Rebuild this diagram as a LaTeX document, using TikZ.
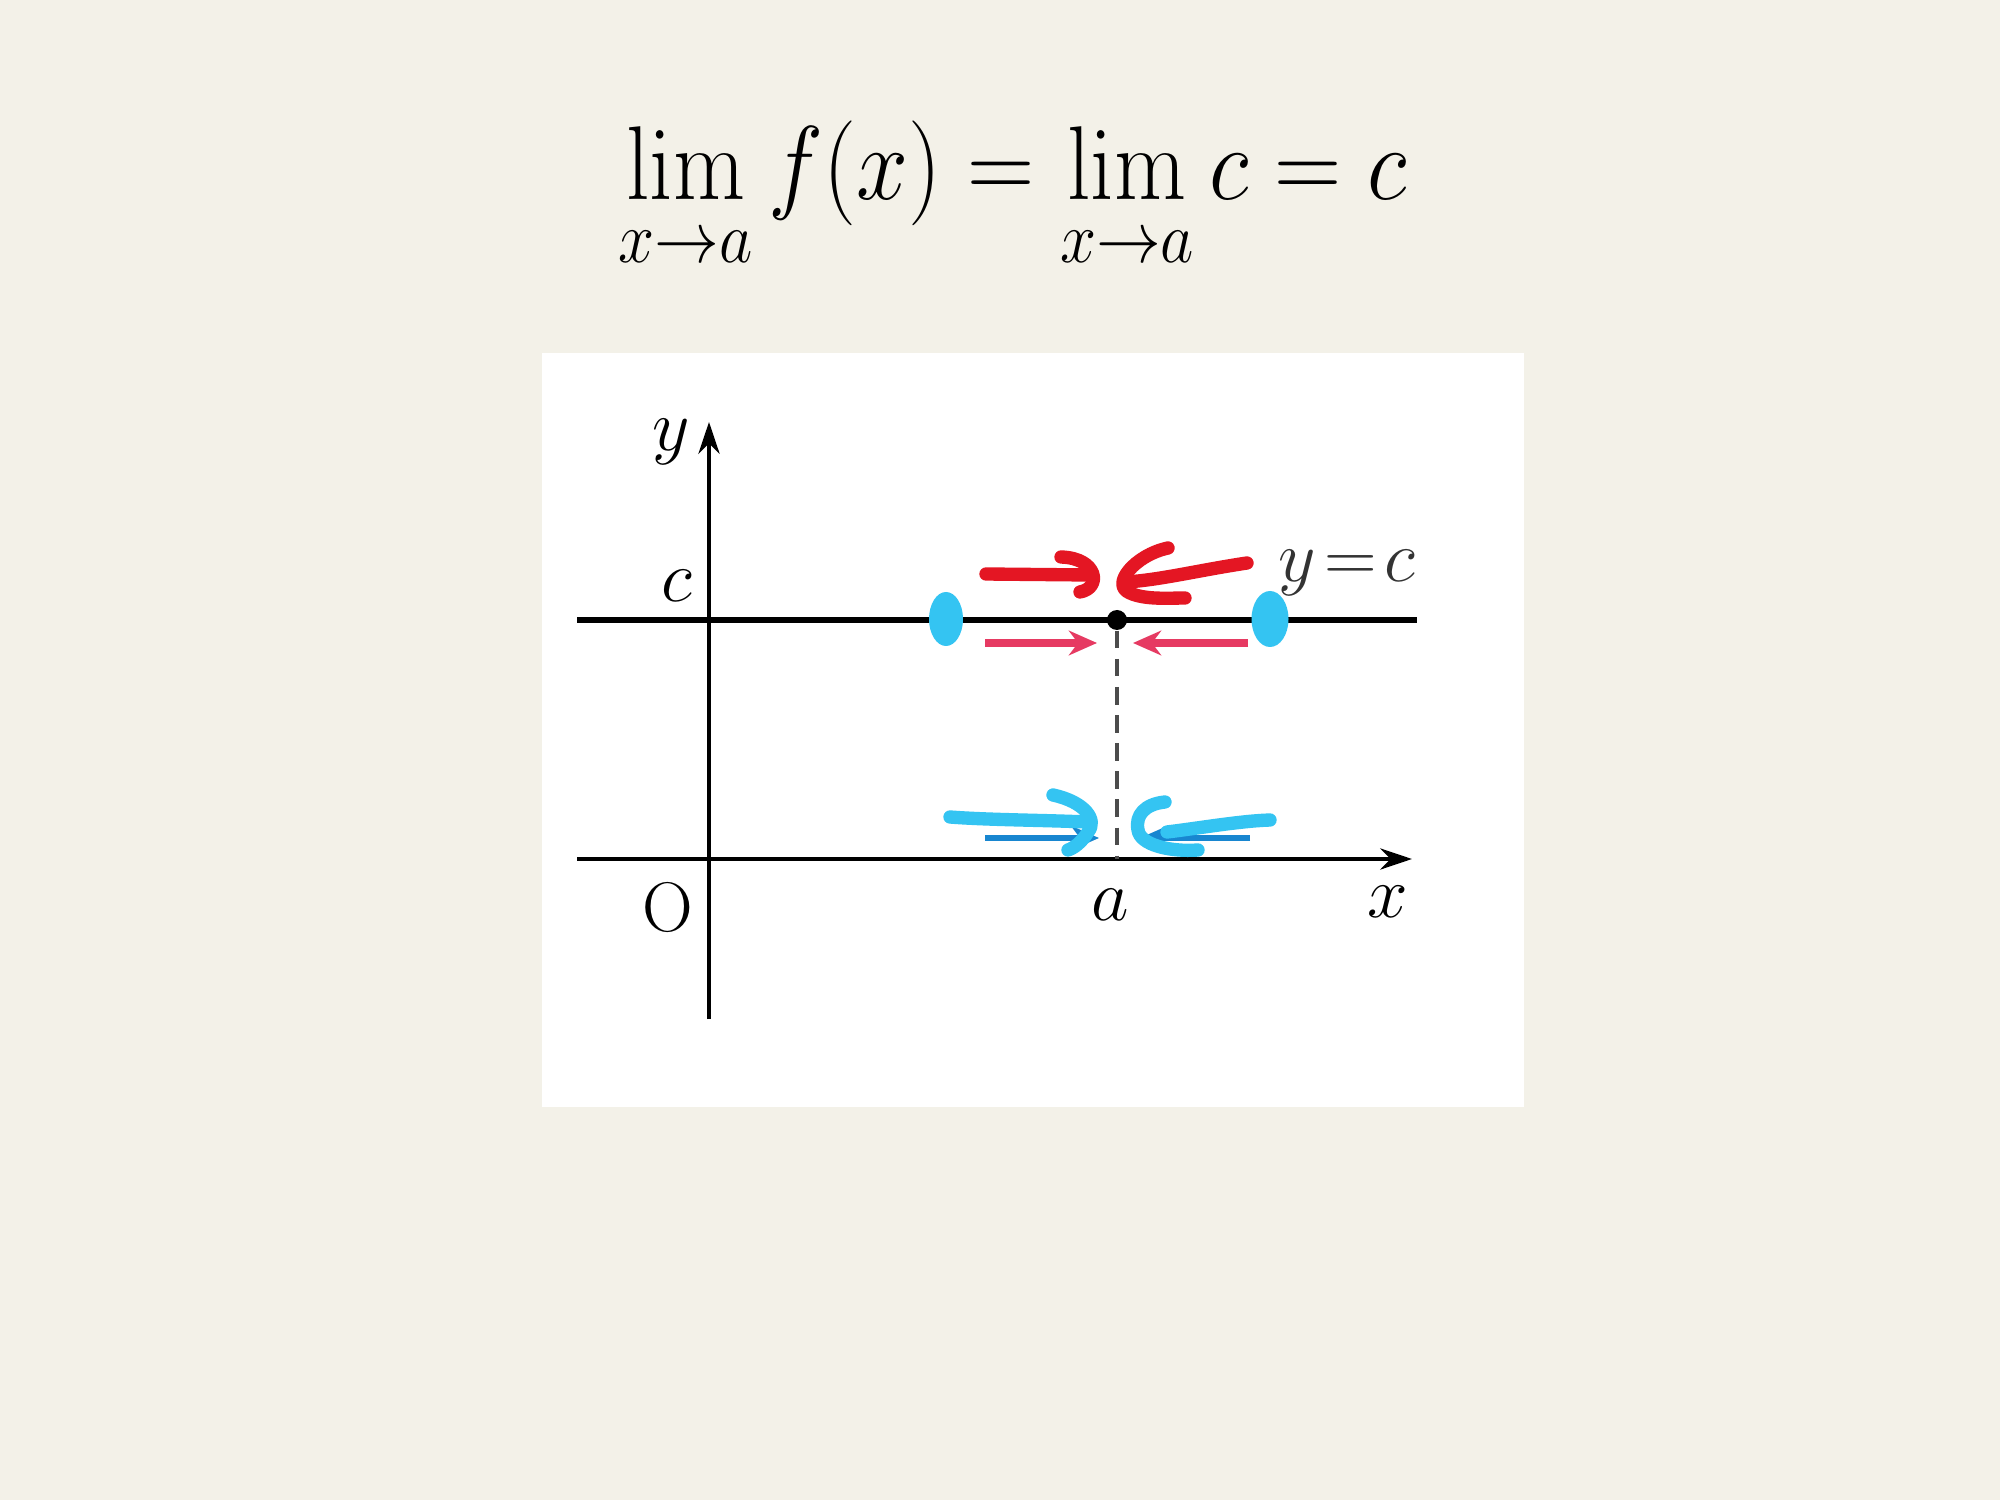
\documentclass[tikz,border=0pt]{standalone}
\usepackage{tikz}
\usetikzlibrary{arrows.meta, positioning, calc, shapes.geometric}
\usepackage{amsmath}

\definecolor{slidebg}{RGB}{243,241,232}
\definecolor{penred}{RGB}{228,22,35}
\definecolor{penblue}{RGB}{52,196,242}
\definecolor{printpink}{RGB}{230,58,98}
\definecolor{printblue}{RGB}{24,134,208}

\begin{document}
\begin{tikzpicture}[
    >=Stealth,
    axis/.style={->, line width=1.2pt, >={Stealth[length=9pt, width=6pt]}},
    lbl/.style={font=\fontsize{20}{24}\selectfont, inner sep=0pt},
    pen/.style={line width=3.8pt, line cap=round, line join=round},
    hint/.style={->, line width=2pt, >={Stealth[length=8pt, width=7pt]}},
    blob/.style={ellipse, fill=penblue, inner sep=0pt},
]
\fill[slidebg] (0,0) rectangle (20,15);
\useasboundingbox (0,0) rectangle (20,15);

% ---- Formula ----
\node[anchor=base, font=\fontsize{25}{30}\selectfont, xscale=1.066, yscale=1.2, transform shape] (lim)
    at (10.13, 13.0) {$\displaystyle\lim_{x\to a} f(x) = \lim_{x\to a} c = c$};

% ---- Panel ----
\fill[white] (5.42,3.93) rectangle (15.24,11.47);

% ---- Axes ----
\coordinate (O) at (7.09,6.41);
\coordinate (xs) at (5.77,6.41);
\coordinate (xe) at (14.12,6.41);
\coordinate (ys) at (7.09,4.81);
\coordinate (ye) at (7.09,10.78);
\draw[axis] (xs) -- (xe);
\draw[axis] (ys) -- (ye);

% ---- Line y=c ----
\coordinate (cs) at (5.77,8.80);
\coordinate (ce) at (14.17,8.80);
\draw[line width=1.5pt] (cs) -- (ce);

\node[circle, fill=black, inner sep=0pt, minimum size=0.2cm] (P) at (11.17,8.80) {};
\coordinate (A) at (11.17,6.41);
\draw[gray!60!black, line width=0.9pt, dash pattern=on 5pt off 3pt] (P) -- (A);

% ---- Labels ----
\node[lbl] (ylbl) at (6.71,10.58) {$y$};
\node[lbl] (clbl) at (6.77,9.14) {$c$};
\node[lbl] (olbl) at (6.68,5.93) {O};
\node[lbl] (albl) at (11.10,5.95) {$a$};
\node[lbl] (xlbl) at (13.88,5.98) {$x$};
\node[lbl, black!80] (eqlbl) at (13.47,9.27) {$y\!=\!c$};

% ---- Printed arrows ----
\coordinate (pl1) at (9.85,8.57);  \coordinate (pl2) at (10.97,8.57);
\coordinate (pr1) at (12.48,8.57); \coordinate (pr2) at (11.33,8.57);
\draw[hint, printpink] (pl1) -- (pl2);
\draw[hint, printpink] (pr1) -- (pr2);
\coordinate (bl1) at (9.85,6.62);  \coordinate (bl2) at (10.99,6.62);
\coordinate (br1) at (12.50,6.62); \coordinate (br2) at (11.40,6.62);
\draw[hint, printblue, line width=1.7pt] (bl1) -- (bl2);
\draw[hint, printblue, line width=1.7pt] (br1) -- (br2);

% ---- Pen marks ----
\node[blob, minimum width=0.34cm, minimum height=0.54cm] (lb) at (9.46,8.81) {};
\node[blob, minimum width=0.37cm, minimum height=0.56cm] (rb) at (12.70,8.81) {};

% red, above the line
\draw[pen, penred] (9.86,9.26) -- (10.90,9.25);
\draw[pen, penred] (10.61,9.43) .. controls (10.98,9.42) and (11.02,9.12) .. (10.80,9.08);
\draw[pen, penred] (12.47,9.37) .. controls (12.0,9.30) and (11.6,9.2) .. (11.26,9.18);
\draw[pen, penred] (11.68,9.52) .. controls (11.35,9.45) and (11.10,9.15) .. (11.30,9.07)
    .. controls (11.45,9.00) and (11.70,9.02) .. (11.85,9.02);

% blue, above the x axis
\draw[pen, penblue] (9.50,6.83) .. controls (9.9,6.80) and (10.4,6.80) .. (10.87,6.78);
\draw[pen, penblue] (10.53,7.05) .. controls (10.85,6.98) and (10.98,6.80) .. (10.88,6.68)
    .. controls (10.82,6.58) and (10.74,6.52) .. (10.68,6.50);
\draw[pen, penblue] (12.70,6.80) .. controls (12.4,6.79) and (12.0,6.72) .. (11.67,6.68);
\draw[pen, penblue] (11.65,6.98) .. controls (11.45,6.96) and (11.35,6.85) .. (11.38,6.70)
    .. controls (11.40,6.55) and (11.70,6.48) .. (11.98,6.50);

\end{tikzpicture}
\end{document}
